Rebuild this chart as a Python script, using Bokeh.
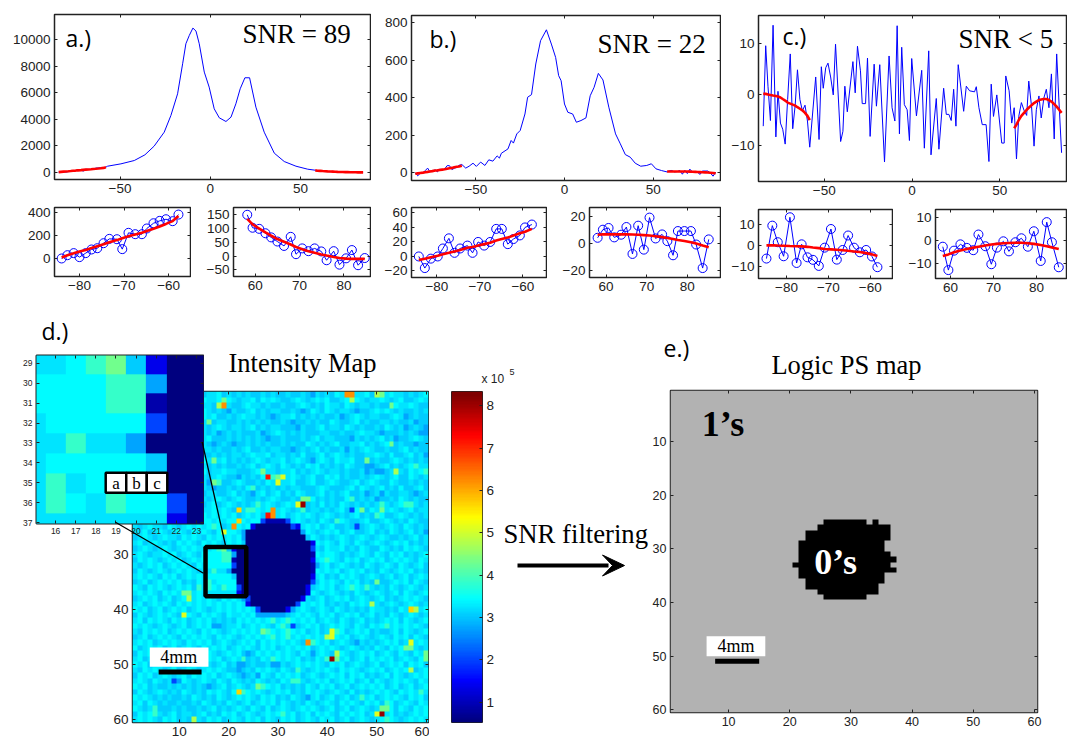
import numpy as np
from bokeh.plotting import figure
from bokeh.models import Range1d, LinearAxis, FixedTicker, CustomJSTickFormatter, LinearColorMapper
from bokeh.core.properties import value
from bokeh.embed import file_html
from bokeh.resources import INLINE

# ---------- spectra, edge windows ----------
A_LEFT_X = [-84,-82.7,-81.3,-80,-78.6,-77.3,-76,-74.6,-73.3,-71.6,-70.4,-69,-67.5,-66,-64.9,-63.4,-62,-60.6,-59.1,-57.8]
A_LEFT_Y = [-3,26,44,9,44,76,87,131,169,166,79,222,210,210,260,306,327,341,324,382]
A_LEFT_FIT = [5,25,42,58,72,88,105,122,140,158,175,192,207,222,238,258,278,300,325,370]
A_RIGHT_X = [58.2,59.4,60.9,62.3,63.6,65,66.5,68,69.2,70.6,72,73.4,74.9,76.1,77.7,79,80.5,81.8,83.2,84.7]
A_RIGHT_Y = [150,103,99,83,68,53,37,70,7,28,18,28,17,-15,18,-31,-8,22,-33,-7]
A_RIGHT_FIT = [135,115,100,86,74,62,52,42,33,25,18,12,6,2,-3,-7,-9,-10,-10,-10]
A_MID_X = [-56.9,-49.5,-42.1,-36.2,-31.1,-25.5,-21.8,-18.1,-15.3,-13.5,-11.6,-9.6,-7.9,-6.1,-3.3,-0.6,2.2,5,8.7,11.5,14.2,16.6,19.2,21.8,25.3,29.9,35.5,41,47.5,54]
A_MID_Y = [453,630,881,1310,1964,3021,4280,5915,8182,9693,10322,10876,10650,9693,7553,6420,4784,4104,3826,4154,5161,6294,7125,7125,4910,3021,1435,806,453,227]

B_LEFT_X = [-84.2,-82.8,-81.4,-79.8,-78.6,-77.2,-75.9,-74.6,-72.9,-71.7,-70.4,-69,-67.6,-66.2,-64.9,-63.5,-62.2,-60.7,-59.5,-57.9]
B_LEFT_Y = [0,-16,-3,0,11,25,5,11,15,5,20,15,20,38,38,17,24,29,40,44]
B_LEFT_FIT = [-5,-3,-1,1,3,5,7,9,12,13,15,17,19,22,24,26,29,32,34,38]
B_RIGHT_X = [57.9,59.2,60.6,62,63.7,65,66.5,67.9,69.3,70.7,72.2,73.8,75.1,76.5,77.7,79.3,80.9,82.2,83.8,85.3]
B_RIGHT_Y = [4.5,10.5,11.8,4.8,6.8,12.5,-7.5,13.5,-4.3,19.5,4,7,2,-8.5,9.5,9.5,9.5,-0.5,-18,3.3]
B_RIGHT_FIT = [6.8,7,7,7,7,7,6.9,6.8,6.5,6.2,5.7,5,4.3,3.6,2.9,2.1,1.2,0.2,-1.2,-2.5]
B_MID_X = [-55.7,-53.8,-51.6,-49.7,-47.3,-44.9,-42.7,-40.4,-38,-36.7,-35.6,-31.9,-30.1,-28.8,-26.9,-25,-22.3,-20.8,-18.6,-16.2,-13.5,-10.2,-7.4,-5,-3.3,-1.9,0,1.9,4.6,6.7,9.3,12.1,14.5,16.7,19.1,21.7,25,28.8,31.5,34.3,37.1,39.9,43,46.4,49,51.6,54.7]
B_MID_Y = [25,35,51,34,57,39,69,62,90,78,104,127,172,158,207,225,313,402,416,579,703,761,685,614,517,490,366,322,313,269,278,292,410,455,529,494,349,207,154,97,83,51,35,39,48,21,12]

C_LEFT_X = [-84.8,-83.4,-82.1,-80.7,-79.2,-77.6,-76.4,-75,-73.7,-72.3,-70.9,-69.4,-68,-66.6,-65.3,-63.9,-62.5,-61,-59.6,-58.3]
C_LEFT_Y = [-6.2,9.5,1.6,-5.1,13.5,-8.3,0.6,-5.6,-6.8,-9.7,-1,7.9,-6.7,-2.1,4.8,-1,-3.2,-2.1,-5.2,-10.3]
C_LEFT_FIT = [0.1,0.1,0,-0.1,-0.2,-0.3,-0.4,-0.6,-0.9,-1.2,-1.6,-1.8,-2,-2.2,-2.5,-2.8,-3.1,-3.6,-4.2,-5]
C_RIGHT_X = [58.2,59.5,60.8,62.3,63.8,65.3,66.5,68.1,69.5,70.8,72.3,73.6,75.1,76.5,78,79.4,81,82.4,83.6,85.2]
C_RIGHT_Y = [-2.6,-12.6,-4.3,-1.6,-3.1,-4.1,2.6,-2.4,-10.1,-3,-0.3,-4.6,-0.7,1,-2.6,4,-8.7,7.9,-0.7,-11.4]
C_RIGHT_FIT = [-6.6,-5.9,-5,-4.2,-3.6,-3,-2.6,-2.1,-1.7,-1.4,-1.1,-1,-0.9,-0.9,-1.1,-1.4,-1.9,-2.4,-2.9,-3.6]
C_MID_X = [-54.9,-53,-51.7,-50.6,-49.2,-47.9,-46.4,-44.9,-43.6,-40.7,-39.4,-38.3,-36.9,-33.7,-32.4,-31.1,-29.4,-28.4,-26.5,-25.4,-23.9,-21.6,-20.3,-18.4,-15.7,-13.1,-11.4,-9.8,-8.5,-7.2,-5.9,-4.4,-2.8,-1.5,-0.2,2.5,5.5,7,9.5,10.8,13.8,15.3,18,19.5,21,22.3,23.7,25,26.3,29.4,30.9,32.8,35.6,36.6,38.1,40,42.2,43.8,45.1,46.4,48.3,51.1,52.5,53.4,55.3,56.8]
C_MID_Y = [3.4,-8.8,5.4,1.2,5.2,6.1,3.4,-0.1,9.8,-9.2,-7.2,1.6,-3.4,6.4,0.3,9.4,4.6,-1.8,-1.8,7.1,-8.2,5.9,-2.3,5.8,-13.2,7.5,-2.6,-5.2,13.4,-7.7,9.2,-2,-3,-9,7,-4.2,4.7,-10.5,8.5,-11.8,-0.8,-10.7,1.2,-3.9,-3.9,-5.1,1,-6.2,5.8,-3.3,1.6,0.7,0.5,1.5,-2.6,-5.9,-5.9,-13.1,2,-4.3,-0.1,-9.5,-9.5,3.6,0.7,-5.6]

# ---------- intensity map: letters stand for colour levels read per cell ----------
LEVELS = {'.':0.5,'n':0.85,'b':1.35,'a':2.0,'e':2.75,'f':3.05,'g':3.22,'c':3.42,'t':3.85,'m':4.3,'l':4.75,'y':5.15,'u':5.7,'o':6.2,'r':7.2,'k':8.1}
MAP_ROWS = [
"gfgcgfgfgc gfgffggcfg fgfgffgfgf fgffgfegfg fcggfggcfg fgcggfgfgc",
"fgcgfggfgc fgfgcggcgc gfggcfcgcg ffgcgfgcgc ffgcgcgfgg cgfgcffgcg",
"gfgfgcgfgg cgfcggfgfg ffgcggfgff gffgcgfgfc ggfcgfggfg ffgcggcgff",
"ggfgfgcgfg fcggcgfgfe gffgcfgfgg ffgfefcgfc gfggfeffgc gcgfgffgfg",
"fgcgfggcgf gfggcgcffg fgcggfgfef ggcfgfgfgf fgefgcgfgg ffgcgefgff",
"gcgfgfgfgc gfgfgcfggf fgfgfgfgff gfeffgfgff cgffgcfgff ggfgffgeff",
"fggcgfggfg cfgfgfgcgf ggfgcfgfgg fffegffgcf ggfcgfgffg fcgfgefgfe",
"ggfgcgfgfc ggfcgfgefg fgfffgefgc gfgfgfffgg ffgffgcggf efffgfgfee",
"fgcgfgcggf gfgcgcfffg fgfgfgfeff gfffgfgcfg gfffegfgfg cfgeffgcgf",
"gfggfgfgcg fggfgfefgf effgfgfgff gfgffcgfgf gcffggcfgf gcffgffeff",
"ggcgfggcfg gfgcggfgff gfgcffgfgg ffefgfgcfg ffgegfgcgf fgffgcfgff",
"fgfgcgfgfg cgfgffgfgf ggfgcggcfg gfgfcffgcf gcgfgffggc gfcffgcfge",
"gcgfgfgcgf gfcgcgfgcf gfgfgcgfgg cfgcgfegcg fcggcffgfg ffgcgfgfgf",
"ggfgcgfggf gcgfgfgfgf fgfgcfgcgf cgfgfcgcfg fgfcgffggf gcfgfgctgg",
"fgcgfgfcgg fgfgcfggcg gfffgcfggf ggcfgfgcgf ggfgffgefe efgcgfcgct",
"gfggcgfgcf gcgfgfgcgf fegfgfcgcg fgcgfgcffc gcfgffgfgc gfgcffcgfg",
"fgcgfgcggf gfgcgefgff gcgffgfcgg ggcffgcffg cgffgcfgcg ffcgffgfgf",
"gcgfggfgfc gffggfeffg fgfcgfgfgf gfggfffgcg fffgcfcgfg cfgfcffgcf",
"fgfgcgfgcg fgcgfggffg cfgfegcfgc fgfcgffgcf gfgcffgefg cgffggfefg",
"ggcgfgfgcf ggfcgfgcgf gcgffgfgcg ffgfegcfgf gffcgfgfge ffgfcgfgff",
"gfgfgcggcf gfcgfgcfgc gfgfgcgcgf gcgfgfgfcf gfcgfgfgfg cgfgcgfgfg",
"fgcggfcgfg cgfcggcgcg ffgcgcgcfg cgfgcfggfg fgcfgcgfcg fgcgfgcfgg",
"gcfgcgfggc gcgfcgcgcg cfgcgcfgcg cfgcgcgfgc gfgfgcfgfg cffgcgfgfg",
"fgcgfgcgfg cgfgccgcgc cgcgccgcgc gfgcgfgfcg fgcgffgcff gcgfgfcgff",
"gfgcggfcgf gcgcgcgcfg gcgcgccgcg cgfcgcgcfg cffgfefgcg fgcgfcgfgf",
"ggcfgcgfgc gfcgcgfcgc cgcfgcccgc gcgcgcgfgc gcfgcffgcf gfcgfgcfge",
"fgcgfgcggf cgcgfcgcgc gcgccgcgcc gccgcgcgfg fgcgfgcgfg cgffgfgcfg",
"gcfgcgfgfc gcgfcgcgfc gcgcgcgcgc gcgcgcgcgc gfcgfcgfgc gfgcgcfgfg",
"fgcgfgcgfg cgcgcfgcgc gcgcgcgcgc gcgccgcgfc ggcfgfcgff cgfgfcgcgf",
"gcgfggcgcf gcgfcgfcgc gcgcgcgcgc gcgcgcgcgc cgfgfgcgfc gfcgcfgfgc",
"fcgcgfgcgc fgcgcgcgcg cgcgcgcgcg cgcgcgcgct cgfcgcfgcg cfgcgcgfcg",
"gfgcgcfgcg cgfcgcfgcg cgcgcgcgcg cgcgcgctgc fgcgfgfcgf gcgfcgfgcf",
"fcgfgcgfgc gcgfgcgcgc gcgcgcgcgc gcgcgcgcgc gcfgcgcfgf cgfgcgcfgf",
"gcgcgfcgcf gcgcfgcgcg cgcgcgcgcg cgcgcgcgcf gfcgcgfgcg fgcfgcfgcg",
"fgcfgcgcgc fgfcgcgcgc gcgcgcgcgc gcgcgcgfcg cgfcgcfgfg ffgcgcfcgf",
"cgfcgcgfgc gcfgcgcgcg gcgcgcgcgc gcgcgcfgcg cfgctcgcgf gfcgfgcgfg",
"gcgcgfcgcg cfgcgctgcg cgcgcgcgcg cgcgcgcgfg cgfgfcgfgc gfgcfcgfgc",
"fgcgcfgcfg ctgcgcgfcg cgcgcgcgcg cgcgcgfgcf gcgcfgcgfg cfgfgcgcgf",
"gcfgcgcgfc gcgcgcgcgc gcgcgtcgcg cgcgcgcgcf gfgfcgcgfg fgcgfgcgfg",
"cgcfgcfgcg cfgcgfgcgc gcgcgcgcct cgcgcgfgcg fcgfgfgfcg gfgfcgcfgc",
"fcgfgcgcgf gcgfcgcgfc ggcgcgcgcg tcgcgcgfcg cfgcgcfgcf gfcgfgcgfg",
"gcfcgcgfcg cfgcgcfgfg fcgcgcgctg ctcgcgcfgc gfcgfgcfgf gcgcfcgfgc",
"cgcgfgcgfg cfgcgcfefg gcfgcgcgfc tgcfgcgcfg cgcgfcgfcg cfgcgcgcgf",
"gfcgcgcfgc gcgfcgcgfg cgcgcgctcg ctcgcfgcfg fgcfgcgcfg ffgcfcgfgc",
"fgcfgcgcgf cgcgcgfcgc gfgcgcgctg ctgcgcgcgf gcgcfgcgfg cgfcgcfcgf",
"gcgcfgcgcg fcgcgcfgcg fgcgcfcgcg cgcgfcgcgc fgcgfcgfgf gcgcfgcgcg",
"cfgcgcfgcf gcgfcgcgcf gcgcgfcgcf gcgcgcfgcg cgfgcgfgfc gfcgcgcgfg",
"fcgcfgcgcg cgcfgcgfgc gcfefcgcgc gcgfcgcgcg fgcgfgcgcf gcgfcgfcgc",
"gcfgcgcfgc gcgcgcgcfg cgcfgfcgfc gcgcfgfcgc gcgcfgcfcg cgcfgcgfcg",
"cgcfgcgfcg fgcgcgfgcf gcgfgffgfc gfgcgcgcgf cgcfgcgfgc fgcgcfcgcf",
"gfcgcgfgcf gcgfgcgcgf fefgfcgcgf cgfcgfgcgc gfcgcgfgcg cfgcgcgfgc",
"fcgcfgcgfg cfcgcgcfgc gfefgfcgfc gcgcfgcgfg cgcfcgcfgf gcfcgfgcgc",
"gcgfcgfgfe cgfgcgfcgf cgfgfcgfgf cgfegfgcgc fgcgcfgcfc gfgcgcgfcg",
"cgcfgffgfg fgfgfefgcf gcgfgcfcgc fgfgfcgfcg cfgcfgcgcg cfgcfgcfgc",
"fcgfgcgfgf cgfgfcgcgf cgfcgcgfgc gcfgfcgcgf gcgfcfgfgc gcgfcgcgcg",
"cgcgfgfgff gfcgfgfcgf gcgcgfcgcf gfcgfegcfg cfgcfgcgcf gcgcgfcgcf",
"gcfcgfgffg ffgfcgfgfc gfgcfgcgcf cgfgfcgfgc gfcgcgfcgc fgcfgcgfcg",
"cgfgcfffgf gffgfgcfgf gcgfcgfcfg cgfgcgcgfg cfgcfgcgfg cgcfcgfcgc",
"fcgcfgfgcf ggfgcfgfcg cfgcgfgcgc fgcfgcfcgc gfcgcgcfgc fgcfgfgcgc",
"gcgcgfcgcf gfcgfcgcfg cgfcgcfcgf cgcfgcgfcg cfgcfgcgfg cfcgfgcgcg",
]
MAP_CELLS = [(2,19,'m'),(3,18,'l'),(3,19,'o'),(6,16,'m'),(13,17,'m'),(17,17,'m'),(17,18,'t'),(15,27,'m'),(16,28,'r'),(16,29,'t'),(16,30,'m'),(16,31,'y'),(17,30,'y'),(18,25,'t'),(22,22,'u'),(22,24,'t'),(22,25,'t'),(24,22,'u'),(25,21,'o'),(26,19,'y'),(25,17,'t'),(22,29,'o'),(23,29,'o'),(23,28,'r'),(21,34,'y'),(21,35,'k'),(20,35,'m'),(20,36,'m'),(21,26,'t'),(22,35,'t'),(1,44,'o'),(1,45,'o'),(2,45,'l'),(1,50,'l'),(1,51,'m'),(3,53,'m'),(10,53,'m'),(13,48,'m'),(15,54,'l'),(20,45,'t'),(22,47,'m'),(22,45,'a'),(21,51,'t'),(22,51,'m'),(23,50,'t'),(21,56,'t'),(21,57,'t'),(25,46,'a'),(19,51,'e'),(14,48,'e'),(14,49,'e'),(24,42,'t'),
(38,12,'l'),(37,11,'m'),(37,12,'m'),(41,11,'y'),(36,14,'t'),(53,9,'a'),(53,10,'e'),(55,22,'u'),(55,23,'t'),(60,13,'l'),(54,26,'m'),(54,27,'t'),(49,23,'t'),(58,5,'t'),(59,5,'t'),(49,29,'t'),(44,27,'m'),(43,17,'e'),(52,26,'e'),(50,22,'e'),(50,23,'e'),(50,29,'e'),(50,30,'e'),
(31,40,'t'),(35,50,'m'),(36,48,'t'),(39,49,'l'),(40,57,'u'),(40,58,'l'),(43,33,'a'),(44,41,'y'),(45,41,'y'),(45,40,'l'),(44,42,'t'),(46,36,'o'),(46,37,'t'),(46,46,'e'),(46,57,'y'),(47,56,'m'),(47,57,'m'),(43,52,'t'),(48,37,'e'),(48,42,'l'),(49,41,'k'),(49,42,'m'),(49,40,'t'),(48,60,'m'),(49,60,'m'),(51,57,'l'),(53,33,'t'),(53,34,'t'),(51,34,'t'),(55,59,'t'),(56,47,'t'),(57,52,'t'),(59,31,'t'),(59,50,'y'),(59,51,'k'),(58,51,'m'),(58,52,'m'),(60,52,'t'),
# edge of the dark disc
(24,27,'a'),(24,28,'n'),(24,29,'n'),(24,30,'n'),(24,31,'n'),(24,32,'a'),(25,25,'b'),(25,33,'a'),(25,34,'b'),(26,23,'e'),(26,35,'e'),(27,23,'e'),(27,36,'f'),(28,23,'f'),(28,37,'b'),(29,37,'a'),(30,37,'n'),(31,37,'b'),(32,37,'n'),(32,38,'e'),(33,37,'n'),(34,37,'b'),(35,37,'a'),(36,36,'b'),(37,36,'b'),(38,23,'e'),(38,24,'a'),(38,35,'b'),(39,24,'b'),(39,34,'a'),(40,26,'a'),(40,32,'b'),(40,33,'e'),(41,26,'e'),(41,27,'e'),(41,28,'e'),(41,29,'e'),(41,30,'e'),(41,31,'e'),(41,32,'f')]
# first and last column of the dark disc in each row
DISC_SPANS = {25:(26,32),26:(24,34),27:(24,35),28:(24,36),29:(22,36),30:(22,36),31:(22,36),32:(22,36),33:(21,36),34:(22,36),35:(22,36),36:(23,35),37:(23,35),38:(25,34),39:(25,33),40:(27,31)}
# the zoomed block, rows 29-37, columns 15-23
INSET_FIRST_ROW, INSET_FIRST_COL = 29, 15
INSET_ROWS = ["ggctmfb..","cccctte..","ccccttn..","gccccca..","ggtgge...","gcccccf..","gtgcccc..","gtcgtcca.","gggggggb."]

# logic map: first and last column of the zeros in each row
ZERO_SPANS = {25:[(26,32),(34,34)],26:[(25,36)],27:[(23,36)],28:[(23,36)],29:[(22,35)],30:[(22,35)],31:[(22,36)],32:[(22,37)],33:[(21,36)],34:[(22,37)],35:[(22,35)],36:[(23,35)],37:[(23,34)],38:[(25,34)],39:[(26,32)]}

COLORBAR_TICKS = [1,2,3,4,5,6,7,8]
PROFILE_TICKS = [-50,0,50]
MAP_TICKS = [10,20,30,40,50,60]

# ---------- helpers ----------
SANS = "Liberation Sans"; SERIF = "Liberation Serif"; CAL = "Open Sans"
INK = "#222222"

def jet(n=256):
    out = []
    for i in range(n):
        t = i / (n - 1)
        r = np.clip(1.5 - abs(4*t - 3), 0, 1); g = np.clip(1.5 - abs(4*t - 2), 0, 1); b = np.clip(1.5 - abs(4*t - 1), 0, 1)
        out.append("#%02x%02x%02x" % (int(r*255), int(g*255), int(b*255)))
    return out

blank = CustomJSTickFormatter(code="return ''")

def panel(left, top, w, h, xr, yr, xt, yt, left_t=None, font="13.5px", ml=46, mb=24, mt=4, mr=1, lw=1.5, bare=False):
    loc = dict(x_axis_location=None, y_axis_location=None) if bare else {}
    p = figure(x_range=Range1d(*xr), y_range=Range1d(*yr), frame_width=w, frame_height=h,
               width=w+ml+mr, height=h+mt+mb, min_border_left=ml, min_border_right=mr,
               min_border_top=mt, min_border_bottom=mb, toolbar_location=None, output_backend="svg",
               border_fill_color=None, background_fill_color=None, outline_line_color="#222222",
               outline_line_width=lw,
               styles={"position": "absolute", "left": f"{left-ml}px", "top": f"{top-mt}px"}, **loc)
    p.grid.visible = False
    if not bare:
        for ax, t in ((p.xaxis[0], xt), (p.yaxis[0], left_t if left_t is not None else yt)):
            ax.ticker = FixedTicker(ticks=t)
            ax.axis_line_color = None
            ax.major_tick_in = 3; ax.major_tick_out = 0; ax.minor_tick_line_color = None
            ax.major_tick_line_color = "#222222"
            ax.major_label_text_font = SANS; ax.major_label_text_font_size = font
            ax.major_label_text_color = INK; ax.major_label_standoff = 4
        for side, t in (("above", xt), ("right", yt)):
            ax = LinearAxis(ticker=FixedTicker(ticks=t), formatter=blank, axis_line_color=None,
                            major_tick_in=3, major_tick_out=0, minor_tick_line_color=None,
                            major_tick_line_color="#222222", major_label_standoff=0)
            p.add_layout(ax, side)
    return p

def curve(p, x, y):
    p.line(x, y, line_color="#0000ff", line_width=1)

def fit(p, x, y):
    p.line(x, y, line_color="#ff0000", line_width=2.6)

def ser(p, x, y, s, font=SERIF, size="26px", color="black", style="normal", align="left"):
    p.text([x], [y], text=[s], text_font=value(font), text_font_size=size, text_color=color,
           text_font_style=style, text_align=align, text_baseline="middle")

figs = []
def full(p):
    figs.append(p)
    return p

def spectrum(left, w, top, h, xr, yr, yt, LX, LY, LF, MX, MY, RX, RY, RF):
    p = full(panel(left, top, w, h, xr, yr, PROFILE_TICKS, yt))
    curve(p, list(LX)+list(MX)+list(RX), list(LY)+list(MY)+list(RY))
    fit(p, LX, LF); fit(p, RX, RF)
    return p

def window(left, w, top, h, xr, yr, xt, yt, X, Y, F):
    p = full(panel(left, top, w, h, xr, yr, xt, yt))
    curve(p, X, Y)
    p.scatter(X, Y, size=9, marker="circle", fill_color=None, line_color="#0000ff", line_width=1)
    fit(p, X, F)
    return p

# ---------- top row ----------
spectrum(54, 316, 14, 165, (-86.3, 88.8), (-551, 11900), [0,2000,4000,6000,8000,10000], A_LEFT_X, A_LEFT_Y, A_LEFT_FIT, A_MID_X, A_MID_Y, A_RIGHT_X, A_RIGHT_Y, A_RIGHT_FIT)
spectrum(411, 309, 15, 165, (-86.3, 88), (-41, 837), [0,200,400,600,800], B_LEFT_X, B_LEFT_Y, B_LEFT_FIT, B_MID_X, B_MID_Y, B_RIGHT_X, B_RIGHT_Y, B_RIGHT_FIT)
spectrum(758, 308, 15, 166, (-87.5, 88), (-17, 15.4), [-10,0,10], C_LEFT_X, C_LEFT_Y, C_LEFT_FIT, C_MID_X, C_MID_Y, C_RIGHT_X, C_RIGHT_Y, C_RIGHT_FIT)

# ---------- small row ----------
window(54, 136, 207, 69, (-85.6, -55.1), (-161, 444), [-80,-70,-60], [0,200,400], A_LEFT_X, A_LEFT_Y, A_LEFT_FIT)
window(233, 137, 207, 69, (55.1, 86), (-74, 176.5), [60,70,80], [-50,0,50,100,150], A_RIGHT_X, A_RIGHT_Y, A_RIGHT_FIT)
window(411, 135, 207, 70, (-85.9, -54.5), (-29, 67.5), [-80,-70,-60], [-20,0,20,40,60], B_LEFT_X, B_LEFT_Y, B_LEFT_FIT)
window(589, 131, 207, 70, (55.9, 88.2), (-25, 27), [60,70,80], [-20,0,20], B_RIGHT_X, B_RIGHT_Y, B_RIGHT_FIT)
window(758, 134, 209, 69, (-86.7, -54.7), (-15.7, 17.2), [-80,-70,-60], [-10,0,10], C_LEFT_X, C_LEFT_Y, C_LEFT_FIT)
window(935, 131, 209, 69, (56.5, 87), (-16.2, 13.3), [60,70,80], [-10,0,10], C_RIGHT_X, C_RIGHT_Y, C_RIGHT_FIT)

# ---------- intensity map ----------
grid = np.array([[LEVELS[ch] for ch in r.replace(" ", "").ljust(60, "g")[:60]] for r in MAP_ROWS])
for rw, (a, b) in DISC_SPANS.items():
    grid[rw-1, a-1:b] = LEVELS['.']
for rw, cl, ch in MAP_CELLS:
    grid[rw-1, cl-1] = LEVELS[ch]
for i, r in enumerate(INSET_ROWS):
    for j, ch in enumerate(r):
        grid[INSET_FIRST_ROW-1+i, INSET_FIRST_COL-1+j] = LEVELS[ch]

mapper = LinearColorMapper(palette=jet(), low=0.5, high=8.3)
im = full(panel(132, 391, 296, 331, (0.5, 60.5), (60.5, 0.5), MAP_TICKS, MAP_TICKS, left_t=[30,40,50,60], font="13.5px", mb=16, mr=1))
im.image(image=[grid], x=0.5, y=0.5, dw=60, dh=60, color_mapper=mapper)
im.rect([19.43], [33.15], width=8.26, height=8.9, fill_color=None, line_color="black", line_width=4.5)
im.quad(left=[4], right=[15.9], top=[46.9], bottom=[50.4], fill_color="white", line_color=None)
im.quad(left=[5.8], right=[14.5], top=[50.9], bottom=[51.8], fill_color="black", line_color=None)
ser(im, 9.9, 48.7, "4mm", size="18px", align="center")

# ---------- colour bar ----------
cb = full(panel(451, 391, 31, 331, (0, 1), (0.52, 8.34), [], COLORBAR_TICKS, ml=1, mr=20, mb=2, mt=2, lw=1, bare=True))
cb_levels = np.linspace(0.52, 8.34, 128).reshape(-1, 1)
cb.image(image=[cb_levels], x=0, y=0.52, dw=1, dh=7.82, color_mapper=mapper)
cb_axis = LinearAxis(ticker=FixedTicker(ticks=COLORBAR_TICKS), axis_line_color=None, major_tick_in=3, major_tick_out=0,
                     minor_tick_line_color=None, major_tick_line_color="#222222", major_label_text_font=SANS,
                     major_label_text_font_size="13.5px", major_label_text_color=INK, major_label_standoff=4)
cb.add_layout(cb_axis, "right")

# ---------- logic map ----------
logic = np.ones((60, 60))
for rw, spans in ZERO_SPANS.items():
    for a, b in spans:
        logic[rw-1, a-1:b] = 0
lm = full(panel(670, 390, 367, 322, (0.5, 60.5), (60.5, 0.5), MAP_TICKS, MAP_TICKS, font="12.5px", ml=30, mb=24, mr=14))
lm.image(image=[logic], x=0.5, y=0.5, dw=60, dh=60, color_mapper=LinearColorMapper(palette=["#000000", "#b2b2b2"], low=0, high=1))
lm.quad(left=[6.4], right=[16], top=[46.3], bottom=[50], fill_color="white", line_color=None)
lm.quad(left=[7.8], right=[15], top=[50.5], bottom=[51.4], fill_color="black", line_color=None)
ser(lm, 11.2, 48.2, "4mm", size="18px", align="center")
ser(lm, 5.6, 6.8, "1\u2019s", size="36px", style="bold")
ser(lm, 24, 32.4, "0\u2019s", size="36px", color="white", style="bold")

# ---------- zoomed block ----------
ins = full(panel(36, 355, 167, 168, (15.05, 23.35), (37.05, 28.6), [16,17,18,19,20,21,22,23], [29,30,31,32,33,34,35,36,37], font="8.5px", ml=20, mb=14, lw=2))
ins.image(image=[grid], x=0.5, y=0.5, dw=60, dh=60, color_mapper=mapper)
ins.rect([19,20.02,21.04], [35,35,35], width=1.02, height=1, fill_color="white", line_color="black", line_width=2.5)
for x, s in zip([19,20.02,21.04], "abc"):
    ser(ins, x, 35.05, s, size="17px", align="center")

# ---------- page-level texts and connectors ----------
ov = figure(x_range=Range1d(0, 1067), y_range=Range1d(738, 0), frame_width=1067, frame_height=738, width=1067, height=738,
            min_border=0, toolbar_location=None, output_backend="svg", border_fill_color=None,
            background_fill_color=None, outline_line_color=None, x_axis_location=None, y_axis_location=None,
            styles={"position": "absolute", "left": "0px", "top": "0px"})
ov.grid.visible = False
ov.line([115, 203], [521.7, 572.7], line_color="black", line_width=1.3)
ov.line([201.7, 225], [441.7, 545], line_color="black", line_width=1.3)
ov.line([517, 608], [565, 565], line_color="black", line_width=4)
ov.patch([624, 602, 612, 602], [565, 554.5, 565, 575.5], fill_color="black", line_color="black")
for x, y, s in [(65, 37, "a.)"), (429, 38, "b.)"), (782, 35, "c.)"), (41, 330, "d.)"), (663, 347, "e.)")]:
    ser(ov, x, y, s, font=CAL, size="23px")
ser(ov, 242, 33, "SNR = 89", size="27px")
ser(ov, 597, 43, "SNR = 22", size="27px")
ser(ov, 958, 38, "SNR < 5", size="27px")
ser(ov, 302, 362, "Intensity Map", size="26.5px", align="center")
ser(ov, 846, 364, "Logic PS map", size="26.5px", align="center")
ser(ov, 503, 533, "SNR filtering", size="26.7px")
ser(ov, 481, 378, "x 10", font=SANS, size="12px", color=INK)
ser(ov, 509, 371, "5", font=SANS, size="9px", color=INK)
figs.append(ov)

open("out.html", "w").write(file_html(figs, INLINE))
